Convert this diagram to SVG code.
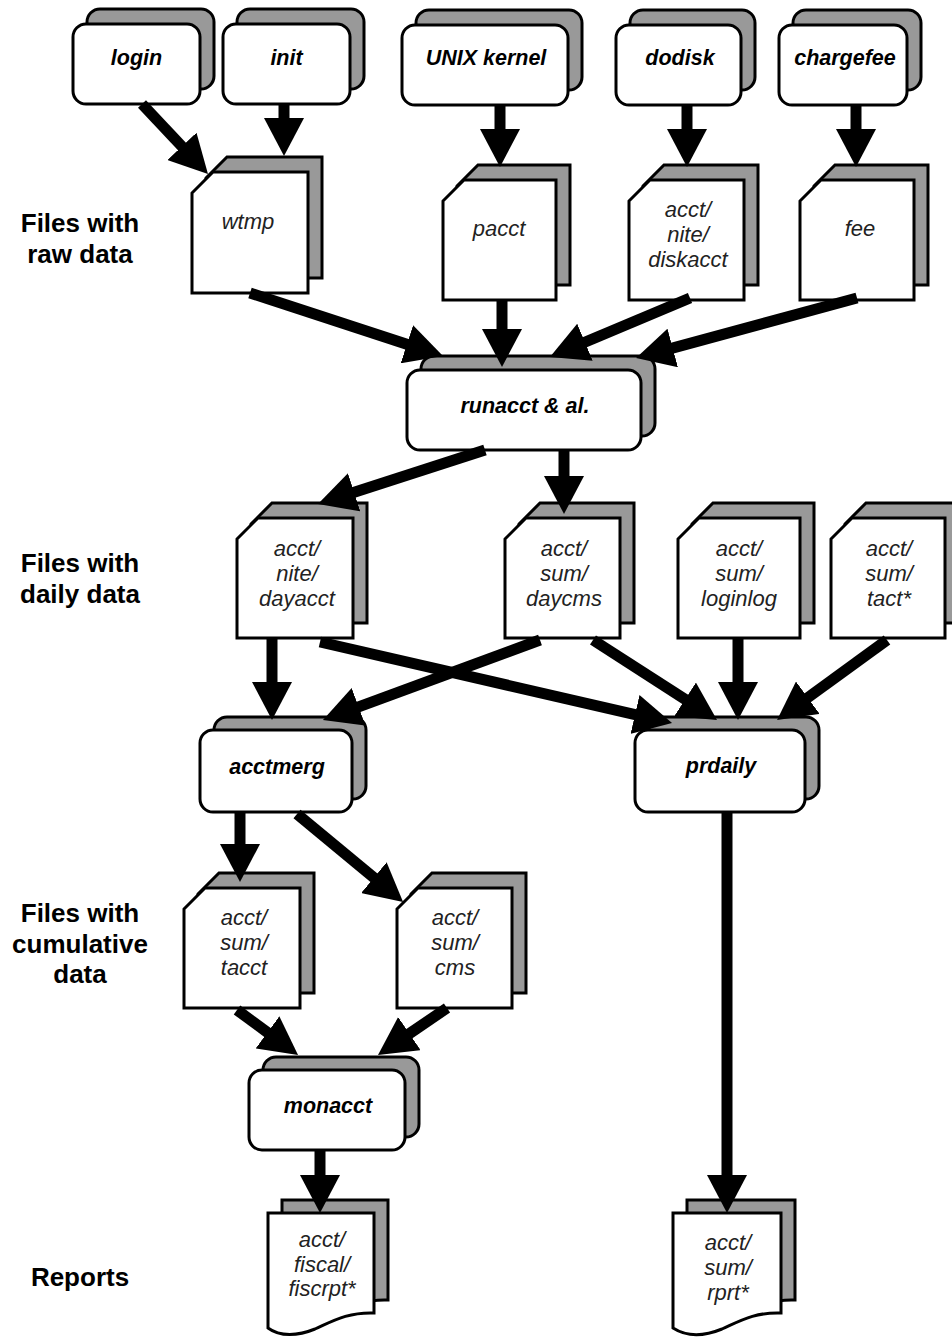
<svg xmlns="http://www.w3.org/2000/svg" width="952" height="1337" viewBox="0 0 952 1337">
<style>
.sh{fill:#999;stroke:#000;stroke-width:3}
.fr{fill:#fff;stroke:#000;stroke-width:3}
.pt{font-family:"Liberation Sans",Arial,sans-serif;font-size:21.5px;font-weight:bold;font-style:italic;text-anchor:middle;fill:#000}
.ft{font-family:"Liberation Sans",Arial,sans-serif;font-size:22px;font-style:italic;text-anchor:middle;fill:#222}
.lb{font-family:"Liberation Sans",Arial,sans-serif;font-size:26px;font-weight:bold;text-anchor:middle;fill:#000}
#connectors line{stroke:#000;stroke-width:11;marker-end:url(#ah)}
</style>
<defs>
<marker id="ah" markerUnits="userSpaceOnUse" markerWidth="38" markerHeight="40" viewBox="0 0 38 40" refX="8" refY="20" orient="auto"><path d="M0,0 L38,20 L0,40 Z" fill="#000"/></marker>
</defs>
<rect width="952" height="1337" fill="#fff"/>

<g id="labels">
<text class="lb" x="80" y="232">Files with</text>
<text class="lb" x="80" y="263">raw data</text>
<text class="lb" x="80" y="572">Files with</text>
<text class="lb" x="80" y="603">daily data</text>
<text class="lb" x="80" y="922">Files with</text>
<text class="lb" x="80" y="953">cumulative</text>
<text class="lb" x="80" y="983">data</text>
<text class="lb" x="80" y="1286">Reports</text>
</g>

<g id="login" transform="translate(73,24)"><rect class="sh" x="14" y="-15" width="127" height="80" rx="13"/><rect class="fr" width="127" height="80" rx="13"/><text class="pt" x="63.5" y="41">login</text></g>
<g id="init" transform="translate(223,24)"><rect class="sh" x="14" y="-15" width="127" height="80" rx="13"/><rect class="fr" width="127" height="80" rx="13"/><text class="pt" x="63.5" y="41">init</text></g>
<g id="unix-kernel" transform="translate(402,25)"><rect class="sh" x="14" y="-15" width="166" height="80" rx="13"/><rect class="fr" width="166" height="80" rx="13"/><text class="pt" x="84" y="40">UNIX kernel</text></g>
<g id="dodisk" transform="translate(616,25)"><rect class="sh" x="14" y="-15" width="125" height="80" rx="13"/><rect class="fr" width="125" height="80" rx="13"/><text class="pt" x="64" y="40">dodisk</text></g>
<g id="chargefee" transform="translate(779,25)"><rect class="sh" x="14" y="-15" width="128" height="80" rx="13"/><rect class="fr" width="128" height="80" rx="13"/><text class="pt" x="66" y="40">chargefee</text></g>

<g id="wtmp" transform="translate(192,172)"><path class="sh" d="M14,6 L35,-15 H130 V106 H14 Z"/><path class="fr" d="M0,21 L21,0 H116 V121 H0 Z"/><text class="ft" x="56" y="57">wtmp</text></g>
<g id="pacct" transform="translate(443,180)"><path class="sh" d="M14,6 L35,-15 H127 V105 H14 Z"/><path class="fr" d="M0,21 L21,0 H113 V120 H0 Z"/><text class="ft" x="56" y="56">pacct</text></g>
<g id="diskacct" transform="translate(629,180)"><path class="sh" d="M14,6 L35,-15 H129 V105 H14 Z"/><path class="fr" d="M0,21 L21,0 H115 V120 H0 Z"/><text class="ft" x="59" y="37">acct/</text><text class="ft" x="59" y="62">nite/</text><text class="ft" x="59" y="87">diskacct</text></g>
<g id="fee" transform="translate(800,180)"><path class="sh" d="M14,6 L35,-15 H128 V105 H14 Z"/><path class="fr" d="M0,21 L21,0 H114 V120 H0 Z"/><text class="ft" x="60" y="56">fee</text></g>

<g id="runacct" transform="translate(407,370)"><rect class="sh" x="14" y="-14" width="234" height="80" rx="13"/><rect class="fr" width="234" height="80" rx="13"/><text class="pt" x="118" y="43">runacct &amp; al.</text></g>

<g id="dayacct" transform="translate(237,518)"><path class="sh" d="M14,6 L35,-15 H130 V105 H14 Z"/><path class="fr" d="M0,21 L21,0 H116 V120 H0 Z"/><text class="ft" x="60" y="38">acct/</text><text class="ft" x="60" y="63">nite/</text><text class="ft" x="60" y="88">dayacct</text></g>
<g id="daycms" transform="translate(505,518)"><path class="sh" d="M14,6 L35,-15 H129 V105 H14 Z"/><path class="fr" d="M0,21 L21,0 H115 V120 H0 Z"/><text class="ft" x="59" y="38">acct/</text><text class="ft" x="59" y="63">sum/</text><text class="ft" x="59" y="88">daycms</text></g>
<g id="loginlog" transform="translate(678,518)"><path class="sh" d="M14,6 L35,-15 H136 V105 H14 Z"/><path class="fr" d="M0,21 L21,0 H122 V120 H0 Z"/><text class="ft" x="61" y="38">acct/</text><text class="ft" x="61" y="63">sum/</text><text class="ft" x="61" y="88">loginlog</text></g>
<g id="tact" transform="translate(831,518)"><path class="sh" d="M14,6 L35,-15 H128 V105 H14 Z"/><path class="fr" d="M0,21 L21,0 H114 V120 H0 Z"/><text class="ft" x="58" y="38">acct/</text><text class="ft" x="58" y="63">sum/</text><text class="ft" x="58" y="88">tact*</text></g>

<g id="acctmerg" transform="translate(200,730)"><rect class="sh" x="14" y="-13" width="152" height="82" rx="13"/><rect class="fr" width="152" height="82" rx="13"/><text class="pt" x="77" y="44">acctmerg</text></g>
<g id="prdaily" transform="translate(635,730)"><rect class="sh" x="14" y="-13" width="170" height="82" rx="13"/><rect class="fr" width="170" height="82" rx="13"/><text class="pt" x="86" y="43">prdaily</text></g>

<g id="tacct" transform="translate(184,888)"><path class="sh" d="M14,6 L35,-15 H130 V105 H14 Z"/><path class="fr" d="M0,21 L21,0 H116 V120 H0 Z"/><text class="ft" x="60" y="37">acct/</text><text class="ft" x="60" y="62">sum/</text><text class="ft" x="60" y="87">tacct</text></g>
<g id="cms" transform="translate(397,888)"><path class="sh" d="M14,6 L35,-15 H129 V105 H14 Z"/><path class="fr" d="M0,21 L21,0 H115 V120 H0 Z"/><text class="ft" x="58" y="37">acct/</text><text class="ft" x="58" y="62">sum/</text><text class="ft" x="58" y="87">cms</text></g>

<g id="monacct" transform="translate(249,1070)"><rect class="sh" x="14" y="-13" width="156" height="80" rx="13"/><rect class="fr" width="156" height="80" rx="13"/><text class="pt" x="79" y="43">monacct</text></g>

<g id="fiscrpt" transform="translate(268,1213)"><path class="sh" d="M14,-13 H120 V87 C94,86 79,95 61,103 C44,110 26,111 14,102 Z"/><path class="fr" d="M0,0 H106 V100 C80,99 65,108 47,116 C30,123 12,124 0,115 Z"/><text class="ft" x="54" y="34">acct/</text><text class="ft" x="54" y="59">fiscal/</text><text class="ft" x="54" y="83">fiscrpt*</text></g>
<g id="rprt" transform="translate(673,1213)"><path class="sh" d="M14,-13 H122 V87 C96,86 81,95 63,103 C46,110 28,111 14,102 Z"/><path class="fr" d="M0,0 H108 V100 C82,99 67,108 49,116 C32,123 14,124 0,115 Z"/><text class="ft" x="55" y="37">acct/</text><text class="ft" x="55" y="62">sum/</text><text class="ft" x="55" y="87">rprt*</text></g>

<g id="connectors">
<line x1="142" y1="104" x2="187.4" y2="152.2"/>
<line x1="284" y1="104" x2="284" y2="126"/>
<line x1="500" y1="105" x2="500" y2="137"/>
<line x1="687" y1="105" x2="687" y2="137"/>
<line x1="856" y1="105" x2="856" y2="137"/>
<line x1="250" y1="293" x2="414.5" y2="346.7"/>
<line x1="502" y1="300" x2="502" y2="337"/>
<line x1="690" y1="298" x2="577.6" y2="345.3"/>
<line x1="857" y1="298" x2="665" y2="350.1"/>
<line x1="485" y1="450" x2="346.5" y2="494.8"/>
<line x1="564" y1="450" x2="564" y2="484"/>
<line x1="272" y1="638" x2="272" y2="690"/>
<line x1="320" y1="642" x2="642.8" y2="716.3"/>
<line x1="540" y1="640" x2="351.1" y2="709.6"/>
<line x1="593" y1="640" x2="691.8" y2="703.7"/>
<line x1="738" y1="638" x2="738" y2="690"/>
<line x1="887" y1="640" x2="801.3" y2="702.4"/>
<line x1="240" y1="812" x2="240" y2="852"/>
<line x1="297" y1="814" x2="380" y2="882.8"/>
<line x1="237" y1="1010" x2="273.9" y2="1037.2"/>
<line x1="447" y1="1008" x2="402.8" y2="1038.1"/>
<line x1="320" y1="1150" x2="320" y2="1183"/>
<line x1="727" y1="812" x2="727" y2="1183"/>
</g>
</svg>
